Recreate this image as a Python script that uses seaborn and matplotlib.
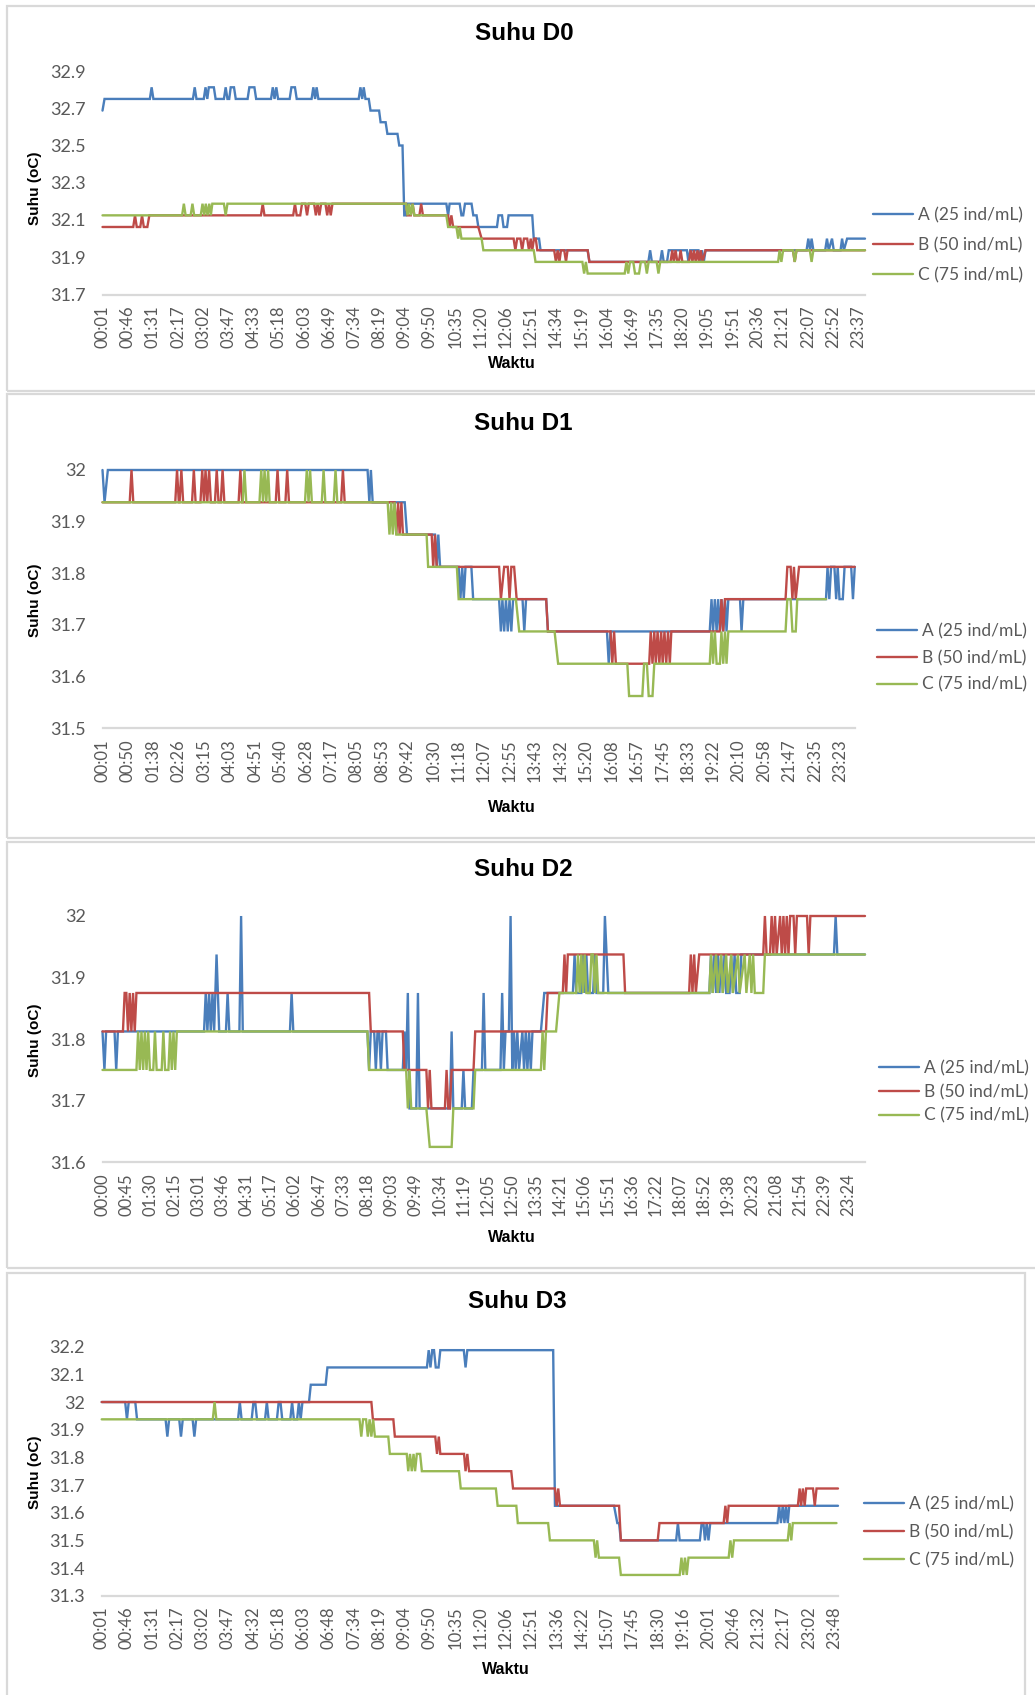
import matplotlib
matplotlib.use("Agg")
import matplotlib.pyplot as plt
import pandas as pd
import seaborn as sns
from matplotlib.patches import Rectangle
from matplotlib.lines import Line2D

# ---------------------------------------------------------------------------
# Data: temperature logs (degC) per treatment. Each entry is
# (position on the time axis in label steps, temperature).
# ---------------------------------------------------------------------------
SERIES_NAMES = ["A (25 ind/mL)", "B (50 ind/mL)", "C (75 ind/mL)"]

# ---- Day 0 ----
D0_TIMES = ["00:01", "00:46", "01:31", "02:17", "03:02", "03:47", "04:33", "05:18",
            "06:03", "06:49", "07:34", "08:19", "09:04", "09:50", "10:35", "11:20",
            "12:06", "12:51", "14:34", "15:19", "16:04", "16:49", "17:35", "18:20",
            "19:05", "19:51", "20:36", "21:21", "22:07", "22:52", "23:37"]
D0_A = [(0.00, 32.6875), (0.08, 32.75),
        (1.88, 32.75), (1.95, 32.8125), (2.02, 32.75),
        (3.59, 32.75), (3.66, 32.8125), (3.73, 32.75),
        (4.02, 32.75), (4.09, 32.8125), (4.16, 32.75), (4.22, 32.8125), (4.42, 32.8125), (4.49, 32.75),
        (4.82, 32.75), (4.89, 32.8125), (4.96, 32.75),
        (5.03, 32.75), (5.09, 32.8125), (5.22, 32.8125), (5.29, 32.75),
        (5.76, 32.75), (5.83, 32.8125), (6.03, 32.8125), (6.10, 32.75),
        (6.69, 32.75), (6.76, 32.8125), (6.83, 32.75), (6.90, 32.8125), (6.97, 32.75),
        (7.43, 32.75), (7.50, 32.8125), (7.64, 32.8125), (7.71, 32.75),
        (8.30, 32.75), (8.37, 32.8125), (8.44, 32.75), (8.50, 32.8125), (8.57, 32.75),
        (10.17, 32.75), (10.24, 32.8125), (10.31, 32.75), (10.37, 32.8125), (10.44, 32.75),
        (10.57, 32.75), (10.64, 32.6875), (10.98, 32.6875), (11.04, 32.625), (11.24, 32.625),
        (11.31, 32.5625), (11.71, 32.5625), (11.78, 32.5), (11.91, 32.5), (11.98, 32.125),
        (12.05, 32.125), (12.11, 32.1875),
        (13.65, 32.1875), (13.72, 32.125), (13.78, 32.1875), (14.18, 32.1875), (14.25, 32.125),
        (14.32, 32.125), (14.39, 32.1875), (14.65, 32.1875), (14.72, 32.125), (14.85, 32.125),
        (14.92, 32.0625), (15.66, 32.0625), (15.72, 32.125), (15.86, 32.125), (15.92, 32.0625),
        (16.06, 32.0625), (16.12, 32.125), (17.06, 32.125), (17.12, 32.0), (17.33, 32.0),
        (17.39, 31.9375), (19.26, 31.9375), (19.33, 31.875),
        (21.67, 31.875), (21.74, 31.9375), (21.81, 31.875), (22.14, 31.875), (22.21, 31.9375),
        (22.28, 31.875), (22.41, 31.875), (22.48, 31.9375),
        (23.20, 31.9375), (23.26, 31.875), (23.33, 31.9375), (23.66, 31.9375), (23.73, 31.875),
        (23.80, 31.9375), (23.87, 31.875), (23.94, 31.9375),
        (27.95, 31.9375), (28.02, 32.0), (28.09, 31.9375), (28.15, 32.0), (28.22, 31.9375),
        (28.69, 31.9375), (28.76, 32.0), (28.83, 31.9375), (28.96, 32.0), (29.03, 31.9375),
        (29.30, 31.9375), (29.36, 32.0), (29.43, 31.9375), (29.56, 32.0), (30.27, 32.0)]
D0_B = [(0.00, 32.0625), (1.22, 32.0625), (1.29, 32.125), (1.36, 32.0625), (1.50, 32.0625),
        (1.57, 32.125), (1.64, 32.0625), (1.78, 32.0625), (1.86, 32.125),
        (6.29, 32.125), (6.36, 32.1875), (6.43, 32.125),
        (7.57, 32.125), (7.64, 32.1875), (7.71, 32.125), (7.85, 32.125), (7.92, 32.1875),
        (8.05, 32.1875), (8.12, 32.125), (8.19, 32.1875), (8.40, 32.1875), (8.47, 32.125),
        (8.54, 32.1875), (8.61, 32.125), (8.68, 32.1875), (8.85, 32.1875), (8.92, 32.125),
        (8.99, 32.1875), (9.06, 32.125), (9.13, 32.1875),
        (12.05, 32.1875), (12.11, 32.125), (12.24, 32.125), (12.31, 32.1875), (12.38, 32.125),
        (12.58, 32.125), (12.65, 32.1875), (12.72, 32.125),
        (13.72, 32.125), (13.78, 32.0625), (13.85, 32.125), (13.92, 32.0625), (14.92, 32.0625),
        (15.05, 32.0),
        (16.32, 32.0), (16.39, 31.9375), (16.46, 32.0), (16.59, 32.0), (16.66, 31.9375),
        (16.73, 32.0), (16.86, 32.0), (16.93, 31.9375), (17.00, 32.0), (17.06, 31.9375),
        (17.13, 32.0), (17.20, 32.0), (17.26, 31.9375),
        (17.93, 31.9375), (18.00, 31.875), (18.07, 31.9375), (18.14, 31.875), (18.20, 31.9375),
        (18.33, 31.9375), (18.40, 31.875), (18.46, 31.9375),
        (19.26, 31.9375), (19.33, 31.875),
        (22.55, 31.875), (22.62, 31.9375), (22.68, 31.875), (22.75, 31.9375), (22.82, 31.875),
        (22.88, 31.875), (22.95, 31.9375), (23.02, 31.875), (23.28, 31.875), (23.35, 31.9375),
        (23.42, 31.875), (23.48, 31.9375), (23.55, 31.875), (23.62, 31.9375), (23.68, 31.875),
        (23.75, 31.9375), (23.82, 31.875), (23.94, 31.9375),
        (27.41, 31.9375), (27.48, 31.875), (27.55, 31.9375), (30.27, 31.9375)]
D0_C = [(0.00, 32.125), (3.16, 32.125), (3.23, 32.1875), (3.30, 32.125), (3.50, 32.125),
        (3.57, 32.1875), (3.64, 32.125), (3.90, 32.125), (3.97, 32.1875), (4.04, 32.125),
        (4.10, 32.1875), (4.17, 32.125), (4.24, 32.1875), (4.30, 32.125), (4.36, 32.1875),
        (4.82, 32.1875), (4.89, 32.125), (4.96, 32.1875),
        (12.05, 32.1875), (12.11, 32.125), (12.17, 32.1875), (12.24, 32.125), (12.31, 32.1875),
        (12.38, 32.125),
        (13.65, 32.125), (13.72, 32.0625), (14.05, 32.0625), (14.12, 32.0), (14.18, 32.0625),
        (14.25, 32.0), (15.05, 32.0), (15.12, 31.9375), (17.12, 31.9375), (17.19, 31.875),
        (19.05, 31.875), (19.12, 31.8125), (19.19, 31.875), (19.26, 31.8125),
        (20.73, 31.8125), (20.80, 31.875), (20.87, 31.8125), (20.94, 31.875), (21.07, 31.875),
        (21.14, 31.8125), (21.30, 31.8125), (21.37, 31.875), (21.54, 31.875), (21.61, 31.8125),
        (21.68, 31.875), (22.00, 31.875), (22.07, 31.8125), (22.14, 31.875),
        (26.82, 31.875), (26.88, 31.9375), (26.95, 31.875), (27.02, 31.9375), (27.41, 31.9375),
        (27.48, 31.875), (27.55, 31.9375), (28.08, 31.9375), (28.15, 31.875), (28.22, 31.9375),
        (30.27, 31.9375)]

# ---- Day 1 ----
D1_TIMES = ["00:01", "00:50", "01:38", "02:26", "03:15", "04:03", "04:51", "05:40",
            "06:28", "07:17", "08:05", "08:53", "09:42", "10:30", "11:18", "12:07",
            "12:55", "13:43", "14:32", "15:20", "16:08", "16:57", "17:45", "18:33",
            "19:22", "20:10", "20:58", "21:47", "22:35", "23:23"]
D1_A = [(0.00, 32.0), (0.08, 31.9375), (0.21, 32.0),
        (10.42, 32.0), (10.49, 31.9375), (10.55, 32.0), (10.62, 31.9375),
        (11.88, 31.9375), (11.97, 31.875),
        (13.07, 31.875), (13.14, 31.8125), (13.20, 31.875), (13.27, 31.8125),
        (14.00, 31.8125), (14.07, 31.75), (14.14, 31.8125), (14.20, 31.75), (14.27, 31.8125),
        (14.50, 31.8125), (14.57, 31.75),
        (15.59, 31.75), (15.66, 31.6875), (15.72, 31.75), (15.79, 31.6875), (15.86, 31.75),
        (15.93, 31.6875), (16.00, 31.75), (16.07, 31.6875), (16.14, 31.75),
        (16.51, 31.75), (16.58, 31.6875), (16.65, 31.75),
        (17.44, 31.75), (17.51, 31.6875),
        (19.83, 31.6875), (19.90, 31.625), (19.97, 31.6875),
        (23.87, 31.6875), (23.94, 31.75), (24.00, 31.6875), (24.07, 31.75), (24.14, 31.6875),
        (24.20, 31.75), (24.27, 31.6875), (24.33, 31.75), (24.40, 31.6875), (24.47, 31.75),
        (24.53, 31.6875), (24.60, 31.75),
        (25.06, 31.75), (25.12, 31.6875), (25.19, 31.75),
        (28.44, 31.75), (28.50, 31.8125), (28.57, 31.75), (28.64, 31.8125), (28.77, 31.8125),
        (28.84, 31.75), (28.90, 31.8125), (28.97, 31.75), (29.10, 31.75), (29.17, 31.8125),
        (29.43, 31.8125), (29.50, 31.75), (29.57, 31.8125)]
D1_B = [(0.00, 31.9375),
        (1.07, 31.9375), (1.14, 32.0), (1.21, 31.9375),
        (2.86, 31.9375), (2.93, 32.0), (3.00, 31.9375), (3.03, 31.9375), (3.10, 32.0), (3.17, 31.9375),
        (3.52, 31.9375), (3.59, 32.0), (3.66, 31.9375),
        (3.85, 31.9375), (3.92, 32.0), (3.99, 31.9375), (4.05, 32.0), (4.12, 31.9375),
        (4.19, 32.0), (4.26, 31.9375),
        (4.42, 31.9375), (4.49, 32.0), (4.56, 31.9375),
        (4.65, 31.9375), (4.72, 32.0), (4.79, 31.9375),
        (5.35, 31.9375), (5.42, 32.0), (5.49, 31.9375),
        (6.81, 31.9375), (6.88, 32.0), (6.95, 31.9375),
        (7.19, 31.9375), (7.26, 32.0), (7.33, 31.9375),
        (9.38, 31.9375), (9.45, 32.0), (9.52, 31.9375),
        (11.48, 31.9375), (11.55, 31.875), (11.62, 31.9375), (11.68, 31.875), (11.75, 31.9375),
        (11.81, 31.875),
        (12.94, 31.875), (13.00, 31.8125), (13.07, 31.875), (13.14, 31.8125),
        (15.59, 31.8125), (15.66, 31.75), (15.79, 31.8125), (15.93, 31.8125), (16.00, 31.75),
        (16.07, 31.8125), (16.18, 31.8125), (16.28, 31.75), (17.44, 31.75), (17.51, 31.6875),
        (19.97, 31.6875), (20.04, 31.625), (20.11, 31.6875), (20.18, 31.625),
        (21.49, 31.625), (21.55, 31.6875), (21.62, 31.625), (21.69, 31.6875), (21.75, 31.625),
        (21.82, 31.6875), (21.89, 31.625), (21.96, 31.6875), (22.02, 31.625), (22.09, 31.6875),
        (22.16, 31.625), (22.23, 31.6875), (22.30, 31.625), (22.36, 31.6875),
        (24.27, 31.6875), (24.33, 31.75), (24.40, 31.6875), (24.47, 31.75),
        (26.85, 31.75), (26.92, 31.8125), (27.05, 31.8125), (27.12, 31.75), (27.18, 31.8125),
        (27.25, 31.75), (27.38, 31.8125), (29.57, 31.8125)]
D1_C = [(0.00, 31.9375),
        (5.51, 31.9375), (5.58, 32.0), (5.65, 31.9375),
        (6.17, 31.9375), (6.24, 32.0), (6.31, 31.9375), (6.37, 32.0), (6.44, 31.9375),
        (6.51, 32.0), (6.57, 31.9375),
        (7.96, 31.9375), (8.03, 32.0), (8.10, 31.9375), (8.16, 32.0), (8.23, 31.9375),
        (8.62, 31.9375), (8.69, 32.0), (8.76, 31.9375),
        (9.09, 31.9375), (9.16, 32.0), (9.23, 31.9375),
        (11.21, 31.9375), (11.28, 31.875), (11.35, 31.9375), (11.41, 31.875), (11.48, 31.9375),
        (11.55, 31.875),
        (12.74, 31.875), (12.80, 31.8125), (13.93, 31.8125), (14.00, 31.75), (16.25, 31.75),
        (16.38, 31.6875),
        (17.77, 31.6875), (17.91, 31.625), (20.63, 31.625), (20.70, 31.5625), (21.22, 31.5625),
        (21.29, 31.625), (21.40, 31.625), (21.47, 31.5625), (21.62, 31.5625), (21.69, 31.625),
        (23.87, 31.625), (23.94, 31.6875), (24.00, 31.625), (24.07, 31.6875), (24.14, 31.625),
        (24.27, 31.625), (24.33, 31.6875), (24.40, 31.625), (24.47, 31.6875), (24.53, 31.625),
        (24.60, 31.6875),
        (26.85, 31.6875), (26.92, 31.75), (27.05, 31.75), (27.12, 31.6875), (27.25, 31.6875),
        (27.31, 31.75), (28.44, 31.75)]

# ---- Day 2 ----
D2_TIMES = ["00:00", "00:45", "01:30", "02:15", "03:01", "03:46", "04:31", "05:17",
            "06:02", "06:47", "07:33", "08:18", "09:03", "09:49", "10:34", "11:19",
            "12:05", "12:50", "13:35", "14:21", "15:06", "15:51", "16:36", "17:22",
            "18:07", "18:52", "19:38", "20:23", "21:08", "21:54", "22:39", "23:24"]
D2_A = [(0.00, 31.8125), (0.08, 31.75), (0.15, 31.8125),
        (0.50, 31.8125), (0.57, 31.75), (0.64, 31.8125),
        (4.22, 31.8125), (4.29, 31.875), (4.36, 31.8125), (4.43, 31.875), (4.50, 31.8125),
        (4.57, 31.875), (4.64, 31.8125), (4.74, 31.9375), (4.85, 31.8125),
        (5.13, 31.8125), (5.20, 31.875), (5.27, 31.8125),
        (5.69, 31.8125), (5.76, 32.0), (5.83, 31.8125),
        (7.79, 31.8125), (7.86, 31.875), (7.93, 31.8125),
        (11.01, 31.8125), (11.08, 31.75), (11.15, 31.8125), (11.29, 31.8125), (11.36, 31.75),
        (11.43, 31.8125), (11.50, 31.8125), (11.57, 31.75), (11.64, 31.8125), (11.78, 31.8125),
        (11.85, 31.75),
        (12.48, 31.75), (12.55, 31.8125), (12.62, 31.75), (12.69, 31.875), (12.76, 31.6875),
        (13.04, 31.6875), (13.11, 31.875), (13.18, 31.6875),
        (14.44, 31.6875), (14.51, 31.8125), (14.58, 31.6875), (14.93, 31.6875), (15.00, 31.75),
        (15.07, 31.6875), (15.35, 31.6875), (15.42, 31.75),
        (15.77, 31.75), (15.84, 31.875), (15.91, 31.75), (16.54, 31.75), (16.61, 31.875),
        (16.68, 31.75), (16.75, 31.8125), (16.89, 31.8125), (16.96, 32.0), (17.03, 31.75),
        (17.10, 31.8125), (17.17, 31.75), (17.24, 31.8125), (17.31, 31.75), (17.45, 31.8125),
        (17.52, 31.75), (17.59, 31.8125), (17.66, 31.75), (17.73, 31.8125), (17.80, 31.75),
        (17.87, 31.8125), (18.22, 31.8125), (18.36, 31.875),
        (19.55, 31.875), (19.62, 31.9375), (19.69, 31.875), (19.90, 31.875), (19.97, 31.9375),
        (20.04, 31.875), (20.11, 31.9375), (20.18, 31.875), (20.39, 31.875), (20.46, 31.9375),
        (20.53, 31.875), (20.81, 31.875), (20.88, 32.0), (20.95, 31.9375), (21.02, 31.875),
        (25.22, 31.875), (25.29, 31.9375), (25.36, 31.875), (25.43, 31.9375), (25.50, 31.875),
        (25.57, 31.9375), (25.64, 31.875), (25.71, 31.9375), (25.78, 31.875), (25.85, 31.9375),
        (25.92, 31.875), (26.06, 31.875), (26.13, 31.9375), (26.20, 31.875), (26.27, 31.9375),
        (26.34, 31.875), (26.48, 31.875), (26.55, 31.9375),
        (30.40, 31.9375), (30.47, 32.0), (30.54, 31.9375), (31.69, 31.9375)]
D2_B = [(0.00, 31.8125), (0.85, 31.8125), (0.92, 31.875), (0.99, 31.875), (1.06, 31.8125),
        (1.13, 31.875), (1.20, 31.8125), (1.27, 31.875), (1.34, 31.8125), (1.41, 31.875),
        (11.08, 31.875), (11.15, 31.8125), (12.48, 31.8125), (12.55, 31.75), (13.46, 31.75),
        (13.53, 31.6875), (13.60, 31.75), (13.67, 31.6875),
        (14.23, 31.6875), (14.30, 31.75), (14.37, 31.6875), (14.44, 31.6875), (14.51, 31.75),
        (15.42, 31.75), (15.49, 31.8125),
        (18.43, 31.8125), (18.50, 31.875), (19.13, 31.875), (19.20, 31.9375), (19.27, 31.875),
        (19.34, 31.9375),
        (21.65, 31.9375), (21.72, 31.875),
        (24.38, 31.875), (24.45, 31.9375), (24.52, 31.875), (24.59, 31.9375), (24.66, 31.875),
        (24.80, 31.9375),
        (27.46, 31.9375), (27.53, 32.0), (27.60, 31.9375), (27.74, 31.9375), (27.81, 32.0),
        (27.88, 31.9375), (27.95, 32.0), (28.02, 31.9375), (28.16, 32.0), (28.23, 31.9375),
        (28.30, 32.0), (28.37, 31.9375), (28.44, 32.0), (28.51, 31.9375), (28.58, 32.0),
        (28.72, 32.0), (28.79, 31.9375), (28.86, 32.0), (29.28, 32.0), (29.35, 31.9375),
        (29.42, 32.0), (31.69, 32.0)]
D2_C = [(0.00, 31.75), (1.41, 31.75), (1.48, 31.8125), (1.55, 31.75), (1.62, 31.8125),
        (1.69, 31.75), (1.76, 31.8125), (1.83, 31.75), (1.90, 31.8125), (1.97, 31.75),
        (2.11, 31.75), (2.18, 31.8125), (2.25, 31.75), (2.46, 31.75), (2.53, 31.8125),
        (2.60, 31.75), (2.74, 31.75), (2.81, 31.8125), (2.88, 31.75), (2.95, 31.8125),
        (3.02, 31.75), (3.09, 31.8125),
        (11.01, 31.8125), (11.08, 31.75), (12.62, 31.75), (12.69, 31.6875), (12.76, 31.75),
        (12.83, 31.6875), (13.46, 31.6875), (13.60, 31.625), (14.51, 31.625), (14.58, 31.6875),
        (15.42, 31.6875), (15.49, 31.75),
        (18.22, 31.75), (18.29, 31.8125), (18.36, 31.75), (18.43, 31.8125), (18.85, 31.8125),
        (18.99, 31.875),
        (19.69, 31.875), (19.76, 31.9375), (19.83, 31.875), (19.90, 31.9375), (19.97, 31.875),
        (20.04, 31.9375), (20.11, 31.875), (20.25, 31.875), (20.32, 31.9375), (20.39, 31.9375),
        (20.46, 31.875), (20.53, 31.9375), (20.60, 31.875),
        (25.22, 31.875), (25.29, 31.9375), (25.36, 31.875), (25.50, 31.9375), (25.57, 31.875),
        (25.71, 31.9375), (25.78, 31.875), (25.92, 31.9375), (25.99, 31.875), (26.13, 31.9375),
        (26.20, 31.875), (26.41, 31.9375), (26.48, 31.875), (26.69, 31.9375), (26.76, 31.875),
        (26.90, 31.9375), (26.97, 31.875), (27.04, 31.9375), (27.11, 31.875), (27.46, 31.875),
        (27.53, 31.9375), (31.69, 31.9375)]

# ---- Day 3 ----
D3_TIMES = ["00:01", "00:46", "01:31", "02:17", "03:02", "03:47", "04:32", "05:18",
            "06:03", "06:48", "07:34", "08:19", "09:04", "09:50", "10:35", "11:20",
            "12:06", "12:51", "13:36", "14:22", "15:07", "17:45", "18:30", "19:16",
            "20:01", "20:46", "21:32", "22:17", "23:02", "23:48"]
D3_A = [(0.00, 32.0), (0.93, 32.0), (1.00, 31.9375), (1.07, 32.0), (1.33, 32.0), (1.40, 31.9375),
        (2.53, 31.9375), (2.60, 31.875), (2.67, 31.9375), (3.07, 31.9375), (3.14, 31.875),
        (3.21, 31.9375), (3.60, 31.9375), (3.67, 31.875), (3.74, 31.9375),
        (5.40, 31.9375), (5.47, 32.0), (5.54, 31.9375), (5.94, 31.9375), (6.01, 32.0),
        (6.08, 32.0), (6.15, 31.9375), (6.47, 31.9375), (6.54, 32.0), (6.61, 31.9375),
        (6.94, 31.9375), (7.01, 32.0), (7.08, 32.0), (7.15, 31.9375), (7.47, 31.9375),
        (7.54, 32.0), (7.61, 31.9375), (7.74, 31.9375), (7.81, 32.0), (7.88, 31.9375),
        (7.95, 32.0), (8.21, 32.0), (8.28, 32.0625), (8.87, 32.0625), (8.94, 32.125),
        (12.88, 32.125), (12.95, 32.1875), (13.02, 32.125), (13.09, 32.1875), (13.16, 32.1875),
        (13.23, 32.125), (13.34, 32.125), (13.41, 32.1875),
        (14.34, 32.1875), (14.41, 32.125), (14.48, 32.1875),
        (17.88, 32.1875), (17.95, 31.625), (20.29, 31.625), (20.42, 31.5625), (20.49, 31.5625),
        (20.56, 31.5),
        (22.75, 31.5), (22.82, 31.5625), (22.89, 31.5), (23.69, 31.5), (23.76, 31.5625),
        (23.83, 31.5625), (23.89, 31.5), (23.96, 31.5625), (24.03, 31.5), (24.10, 31.5625),
        (26.76, 31.5625), (26.83, 31.625), (26.90, 31.5625), (26.97, 31.625), (27.04, 31.5625),
        (27.10, 31.625), (27.17, 31.5625), (27.23, 31.625), (29.16, 31.625)]
D3_B = [(0.00, 32.0), (10.68, 32.0), (10.74, 31.9375), (11.55, 31.9375), (11.61, 31.875),
        (13.21, 31.875), (13.28, 31.8125), (13.35, 31.875), (13.41, 31.8125), (14.35, 31.8125),
        (14.41, 31.75), (14.48, 31.8125), (14.55, 31.75), (16.22, 31.75), (16.29, 31.6875),
        (17.95, 31.6875), (18.02, 31.625), (18.08, 31.6875), (18.15, 31.625), (20.49, 31.625),
        (20.56, 31.5), (22.02, 31.5), (22.09, 31.5625), (24.63, 31.5625), (24.70, 31.625),
        (24.77, 31.5625), (24.83, 31.625),
        (27.57, 31.625), (27.64, 31.6875), (27.70, 31.625), (27.77, 31.6875), (27.84, 31.625),
        (27.90, 31.6875), (28.17, 31.6875), (28.24, 31.625), (28.31, 31.6875), (29.16, 31.6875)]
D3_C = [(0.00, 31.9375), (4.40, 31.9375), (4.47, 32.0), (4.54, 31.9375),
        (10.21, 31.9375), (10.28, 31.875), (10.35, 31.9375), (10.47, 31.9375), (10.54, 31.875),
        (10.61, 31.9375), (10.68, 31.875), (10.75, 31.9375), (10.82, 31.875),
        (11.35, 31.875), (11.41, 31.8125), (12.08, 31.8125), (12.14, 31.75), (12.21, 31.8125),
        (12.28, 31.75), (12.35, 31.8125), (12.41, 31.75), (12.48, 31.8125), (12.61, 31.8125),
        (12.68, 31.75),
        (14.15, 31.75), (14.22, 31.6875), (15.61, 31.6875), (15.68, 31.625), (16.42, 31.625),
        (16.48, 31.5625),
        (17.68, 31.5625), (17.75, 31.5), (19.49, 31.5), (19.56, 31.4375), (19.62, 31.5),
        (19.69, 31.4375), (20.49, 31.4375), (20.56, 31.375),
        (22.89, 31.375), (22.96, 31.4375), (23.03, 31.375), (23.10, 31.4375), (23.17, 31.375),
        (23.24, 31.4375),
        (24.83, 31.4375), (24.90, 31.5), (24.97, 31.4375), (25.04, 31.5),
        (27.17, 31.5), (27.24, 31.5625), (27.31, 31.5), (27.37, 31.5625), (29.10, 31.5625)]

# y-axis tick values and their printed labels
D0_YTICKS = [31.7, 31.9, 32.1, 32.3, 32.5, 32.7, 32.9]
D0_YLABELS = ["31.7", "31.9", "32.1", "32.3", "32.5", "32.7", "32.9"]
D1_YTICKS = [31.5, 31.6, 31.7, 31.8, 31.9, 32.0]
D1_YLABELS = ["31.5", "31.6", "31.7", "31.8", "31.9", "32"]
D2_YTICKS = [31.6, 31.7, 31.8, 31.9, 32.0]
D2_YLABELS = ["31.6", "31.7", "31.8", "31.9", "32"]
D3_YTICKS = [31.3, 31.4, 31.5, 31.6, 31.7, 31.8, 31.9, 32.0, 32.1, 32.2]
D3_YLABELS = ["31.3", "31.4", "31.5", "31.6", "31.7", "31.8", "31.9", "32", "32.1", "32.2"]

# ---------------------------------------------------------------------------
# Styling
# ---------------------------------------------------------------------------
COLORS = ["#4A7EBB", "#BE4B48", "#98B954"]
TEXT_GRAY = "#595959"
AXIS_GRAY = "#D9D9D9"
BOLD_FONT = ["Liberation Sans", "DejaVu Sans"]

sns.set_theme(style="white")
plt.rcParams["font.family"] = ["Lato", "DejaVu Sans"]

W, H = 1035, 1695
fig = plt.figure(figsize=(W / 100, H / 100), dpi=100)
fig.patch.set_facecolor("white")

# panel layout in pixels
panels = [
    dict(title="Suhu D0", times=D0_TIMES, series=[D0_A, D0_B, D0_C],
         yticks=D0_YTICKS, ylabels=D0_YLABELS, ylim=(31.7, 32.9), xend=30.27,
         ax_px=(102.5, 865, 71, 294.5), box=(7, 6, 1040, 391),
         title_xy=(524, 33), ylab_xy=(35, 188), xlab_xy=(512, 363),
         leg_xy=(873, 245), leg_sp=0.80),
    dict(title="Suhu D1", times=D1_TIMES, series=[D1_A, D1_B, D1_C],
         yticks=D1_YTICKS, ylabels=D1_YLABELS, ylim=(31.5, 32.0), xend=29.58,
         ax_px=(102.5, 855, 470, 728.3), box=(7, 394, 1040, 838),
         title_xy=(523, 423), ylab_xy=(35, 600), xlab_xy=(512, 807),
         leg_xy=(877, 658), leg_sp=0.60),
    dict(title="Suhu D2", times=D2_TIMES, series=[D2_A, D2_B, D2_C],
         yticks=D2_YTICKS, ylabels=D2_YLABELS, ylim=(31.6, 32.0), xend=31.69,
         ax_px=(102.5, 865, 916, 1162.3), box=(7, 842, 1040, 1268),
         title_xy=(523, 870), ylab_xy=(35, 1040), xlab_xy=(512, 1238),
         leg_xy=(879, 1092), leg_sp=0.43),
    dict(title="Suhu D3", times=D3_TIMES, series=[D3_A, D3_B, D3_C],
         yticks=D3_YTICKS, ylabels=D3_YLABELS, ylim=(31.3, 32.2), xend=29.16,
         ax_px=(101.7, 838, 1346.7, 1595.7), box=(7, 1273, 1025, 1720),
         title_xy=(517, 1302), ylab_xy=(35, 1472), xlab_xy=(506, 1670),
         leg_xy=(864, 1532), leg_sp=0.68),
]


def fx(px):
    return px / W


def fy(py):
    return 1 - py / H


for p in panels:
    # outer chart frame
    bx0, by0, bx1, by1 = p["box"]
    fig.add_artist(Rectangle((fx(bx0), fy(by1)), (bx1 - bx0) / W, (by1 - by0) / H,
                             transform=fig.transFigure, fill=False,
                             edgecolor=AXIS_GRAY, linewidth=1.6, zorder=0))

    left, right, top, bottom = p["ax_px"]
    ax = fig.add_axes([fx(left), fy(bottom), (right - left) / W, (bottom - top) / H])

    frames = []
    for name, pts in zip(SERIES_NAMES, p["series"]):
        frames.append(pd.DataFrame({"t": [q[0] for q in pts],
                                    "v": [q[1] for q in pts],
                                    "seri": name}))
    df = pd.concat(frames, ignore_index=True)
    sns.lineplot(data=df, x="t", y="v", hue="seri", hue_order=SERIES_NAMES,
                 palette=COLORS, estimator=None, sort=False, linewidth=1.7,
                 legend=False, ax=ax)
    for ln in ax.lines:
        ln.set_clip_on(False)
        ln.set_solid_joinstyle("miter")

    ax.set_xlim(0, p["xend"])
    ax.set_ylim(*p["ylim"])
    ax.set_xticks(range(len(p["times"])))
    ax.set_xticklabels(p["times"], rotation=90, fontsize=12, color=TEXT_GRAY)
    ax.set_yticks(p["yticks"])
    ax.set_yticklabels(p["ylabels"], fontsize=13, color=TEXT_GRAY)
    ax.tick_params(axis="x", length=0, pad=8)
    ax.tick_params(axis="y", length=0, pad=12)
    ax.set_xlabel("")
    ax.set_ylabel("")
    for side in ("left", "top", "right"):
        ax.spines[side].set_visible(False)
    ax.spines["bottom"].set_color(AXIS_GRAY)
    ax.spines["bottom"].set_linewidth(1.6)
    ax.set_facecolor("none")
    ax.grid(False)

    tx, ty = p["title_xy"]
    fig.text(fx(tx), fy(ty), p["title"], ha="center", va="center",
             fontsize=17.5, fontweight="bold", family=BOLD_FONT, color="black")
    lx, ly = p["ylab_xy"]
    fig.text(fx(lx), fy(ly), "Suhu (oC)", ha="center", va="center", rotation=90,
             fontsize=11, fontweight="bold", family=BOLD_FONT, color="black")
    wx, wy = p["xlab_xy"]
    fig.text(fx(wx), fy(wy), "Waktu", ha="center", va="center",
             fontsize=11.5, fontweight="bold", family=BOLD_FONT, color="black")

    handles = [Line2D([], [], color=c, linewidth=1.7) for c in COLORS]
    gx, gy = p["leg_xy"]
    fig.legend(handles, SERIES_NAMES, loc="center left",
               bbox_to_anchor=(fx(gx), fy(gy)), bbox_transform=fig.transFigure,
               frameon=False, fontsize=12.5, labelcolor=TEXT_GRAY,
               handlelength=2.3, handletextpad=0.3, labelspacing=p["leg_sp"],
               borderpad=0, borderaxespad=0)

fig.savefig("out.png", dpi=100, facecolor="white")
